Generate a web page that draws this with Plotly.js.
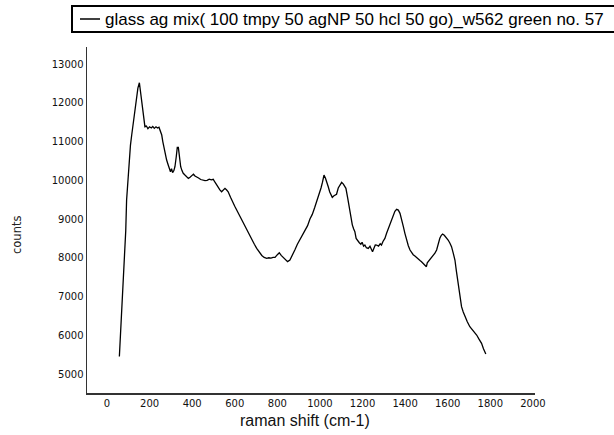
<!DOCTYPE html>
<html>
<head>
<meta charset="utf-8">
<script src="https://cdn.plot.ly/plotly-3.0.1.min.js"></script>
<style>html,body{margin:0;padding:0;background:#fff;}#chart{width:614px;height:435px;}</style>
</head>
<body>
<div id="chart"></div>
<script>
const seriesName = "glass ag mix( 100 tmpy 50 agNP 50 hcl 50 go)_w562 green no. 57";
const xTitle = "raman shift (cm-1)";
const yTitle = "counts";
const ramanShift = [58,65,72,78,83,88,92,98,105,110,116,122,128,134,139,145,152,157,163,168,174,178,185,192,200,208,215,222,230,237,244,250,257,262,268,274,280,287,293,298,303,308,314,319,325,330,335,340,346,352,358,366,374,382,390,398,406,413,421,430,440,450,460,470,480,490,499,507,515,523,530,538,546,554,562,569,580,590,600,609,620,632,644,656,668,680,692,703,715,727,738,750,760,770,780,789,800,809,818,828,838,848,859,870,882,894,906,918,930,942,953,964,975,985,995,1005,1012,1019,1026,1033,1039,1046,1052,1058,1066,1072,1078,1086,1094,1102,1110,1116,1122,1130,1136,1141,1147,1152,1158,1164,1170,1178,1185,1192,1198,1205,1211,1218,1227,1235,1241,1247,1254,1260,1266,1275,1283,1289,1296,1305,1313,1321,1329,1337,1345,1352,1360,1368,1376,1384,1392,1399,1407,1415,1423,1430,1438,1446,1454,1462,1470,1477,1485,1492,1500,1504,1508,1515,1522,1532,1540,1548,1555,1563,1570,1576,1584,1592,1602,1610,1618,1626,1634,1641,1649,1657,1665,1673,1681,1692,1704,1715,1725,1736,1747,1759,1768,1779];
const counts = [5450,6200,6995,7450,7942,8700,9490,10050,10608,10900,11168,11450,11727,12000,12243,12380,12517,12300,12071,11800,11511,11383,11400,11330,11380,11350,11390,11340,11380,11350,11370,11280,11168,11000,10824,10650,10523,10400,10265,10221,10300,10200,10250,10350,10600,10850,10850,10550,10350,10250,10180,10135,10080,10050,10080,10120,10160,10110,10075,10060,10020,10010,9990,10000,10030,10010,10025,9950,9878,9800,9750,9705,9760,9792,9750,9705,9560,9420,9330,9232,9110,8990,8850,8716,8590,8460,8350,8243,8140,8060,8010,7985,8000,7990,8010,8011,8080,8130,8060,8011,7950,7900,7942,8050,8200,8350,8480,8600,8720,8830,9000,9120,9290,9450,9600,9800,9950,10135,10050,9950,9834,9700,9600,9560,9600,9620,9640,9800,9880,9946,9900,9850,9792,9550,9350,9189,9000,8850,8750,8673,8500,8420,8389,8350,8400,8300,8329,8260,8243,8300,8200,8157,8250,8330,8329,8300,8360,8329,8420,8500,8631,8750,8870,8974,9100,9200,9250,9230,9147,9000,8800,8631,8450,8310,8200,8130,8080,8045,8000,7950,7930,7898,7850,7810,7769,7870,7898,7950,8000,8045,8120,8200,8350,8502,8580,8613,8580,8530,8458,8380,8286,8120,7942,7650,7340,7030,6737,6600,6479,6350,6221,6150,6070,6006,5900,5792,5650,5516];
const xTicks = [0,200,400,600,800,1000,1200,1400,1600,1800,2000];
const yTicks = [5000,6000,7000,8000,9000,10000,11000,12000,13000];

// plot area in pixels: left 87, right 535, top 47, bottom 393
const W = 614, H = 435, L = 87, R = 79, T = 47, B = 42;
const pw = W - L - R, ph = H - T - B;
const px = v => (v - L) / pw;          // pixel x -> paper x
const py = v => (H - B - v) / ph;      // pixel y -> paper y

const tickFont = {family: "DejaVu Sans", size: 10, color: "#111"};
const data = [{
  type: "scatter", mode: "lines", name: seriesName, showlegend: false,
  x: ramanShift, y: counts,
  line: {color: "#000", width: 1.3}
}];
const layout = {
  width: W, height: H,
  margin: {l: L, r: R, t: T, b: B, autoexpand: false},
  paper_bgcolor: "#fff", plot_bgcolor: "#fff",
  showlegend: false,
  xaxis: {
    range: [-94, 2010], tickvals: xTicks, ticktext: xTicks.map(String),
    showgrid: false, zeroline: false, showline: true, linecolor: "#333", linewidth: 1.5,
    ticks: "", tickfont: tickFont
  },
  yaxis: {
    range: [4510, 13440], tickvals: yTicks, ticktext: yTicks.map(String),
    showgrid: false, zeroline: false, showline: true, linecolor: "#333", linewidth: 1.5,
    ticks: "", tickfont: tickFont
  },
  shapes: [
    {type: "rect", xref: "paper", yref: "paper", x0: px(72), x1: px(640), y0: py(32), y1: py(6),
     line: {color: "#000", width: 2}, fillcolor: "#fff", layer: "above"},
    {type: "line", xref: "paper", yref: "paper", x0: px(80), x1: px(100), y0: py(19), y1: py(19),
     line: {color: "#000", width: 1.5}}
  ],
  annotations: [
    {text: seriesName, xref: "paper", yref: "paper", x: px(103), y: py(19.5), xanchor: "left", yanchor: "middle",
     showarrow: false, font: {family: "Liberation Sans, Arial", size: 17, color: "#000"}},
    {text: xTitle, xref: "paper", yref: "paper", x: px(305), y: py(420), xanchor: "center", yanchor: "middle",
     showarrow: false, font: {family: "Liberation Sans, Arial", size: 16, color: "#111"}},
    {text: yTitle, xref: "paper", yref: "paper", x: px(17), y: py(235), xanchor: "center", yanchor: "middle",
     textangle: -90, showarrow: false, font: {family: "DejaVu Sans", size: 11.5, color: "#222"}}
  ]
};
Plotly.newPlot("chart", data, layout, {displayModeBar: false, staticPlot: true});
</script>
</body>
</html>
